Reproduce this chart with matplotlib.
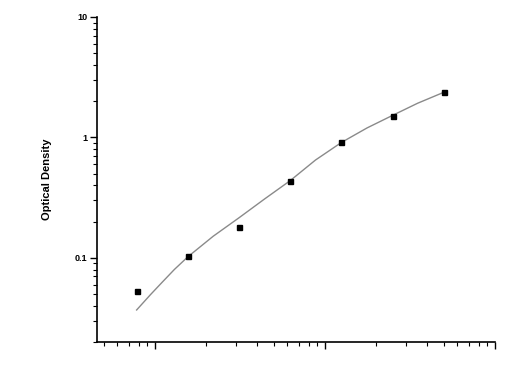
import numpy as np
import matplotlib
matplotlib.use("Agg")
import matplotlib.pyplot as plt
from matplotlib.ticker import LogLocator, NullFormatter, FixedLocator, FixedFormatter

# standard points (doubling dilution)
conc = [0.78, 1.56, 3.125, 6.25, 12.5, 25, 50]
od = [0.053, 0.103, 0.182, 0.438, 0.92, 1.52, 2.40]

# fitted curve
curve_x = [0.78, 0.94, 1.1, 1.3, 1.56, 2.2, 3.125, 4.4, 6.25, 8.8, 12.5, 17.7, 25, 35, 50]
curve_y = [0.0369, 0.0494, 0.0625, 0.0800, 0.1019, 0.1511, 0.2154, 0.3073, 0.4382,
           0.6494, 0.9085, 1.200, 1.525, 1.920, 2.371]

yticks = [0.1, 1, 10]
ytick_labels = ["0.1", "1", "10"]

plt.rcParams['font.family'] = ['Liberation Sans', 'DejaVu Sans']

fig = plt.figure(figsize=(5.09, 3.73), dpi=100)
ax = fig.add_axes([97/509, 1-342/373, (495-97)/509, (342-17)/373])

ax.plot(curve_x, curve_y, color="#8a8a8a", lw=1.0)
ax.plot(conc, od, "s", color="black", ms=3.6)

ax.set_xscale("log")
ax.set_yscale("log")
ax.set_xlim(0.456, 100)
ax.set_ylim(0.02, 10)

for s in ["top", "right"]:
    ax.spines[s].set_visible(False)
for s in ["left", "bottom"]:
    ax.spines[s].set_linewidth(1.2)

ax.xaxis.set_major_locator(LogLocator(base=10))
ax.xaxis.set_minor_locator(LogLocator(base=10, subs=np.arange(2, 10)))
ax.xaxis.set_major_formatter(NullFormatter())
ax.xaxis.set_minor_formatter(NullFormatter())

ax.yaxis.set_major_locator(FixedLocator(yticks))
ax.yaxis.set_major_formatter(FixedFormatter(ytick_labels))
ax.yaxis.set_minor_locator(LogLocator(base=10, subs=np.arange(2, 10)))
ax.yaxis.set_minor_formatter(NullFormatter())

ax.tick_params(which="major", length=5, width=1, direction="out", labelsize=6.5, pad=2)
ax.tick_params(which="minor", length=3, width=0.8, direction="out")
for lbl in ax.get_yticklabels():
    lbl.set_fontweight("bold")

ax.set_ylabel("Optical Density", fontsize=8, fontweight="bold", labelpad=16)

fig.savefig("out.png", dpi=100)
